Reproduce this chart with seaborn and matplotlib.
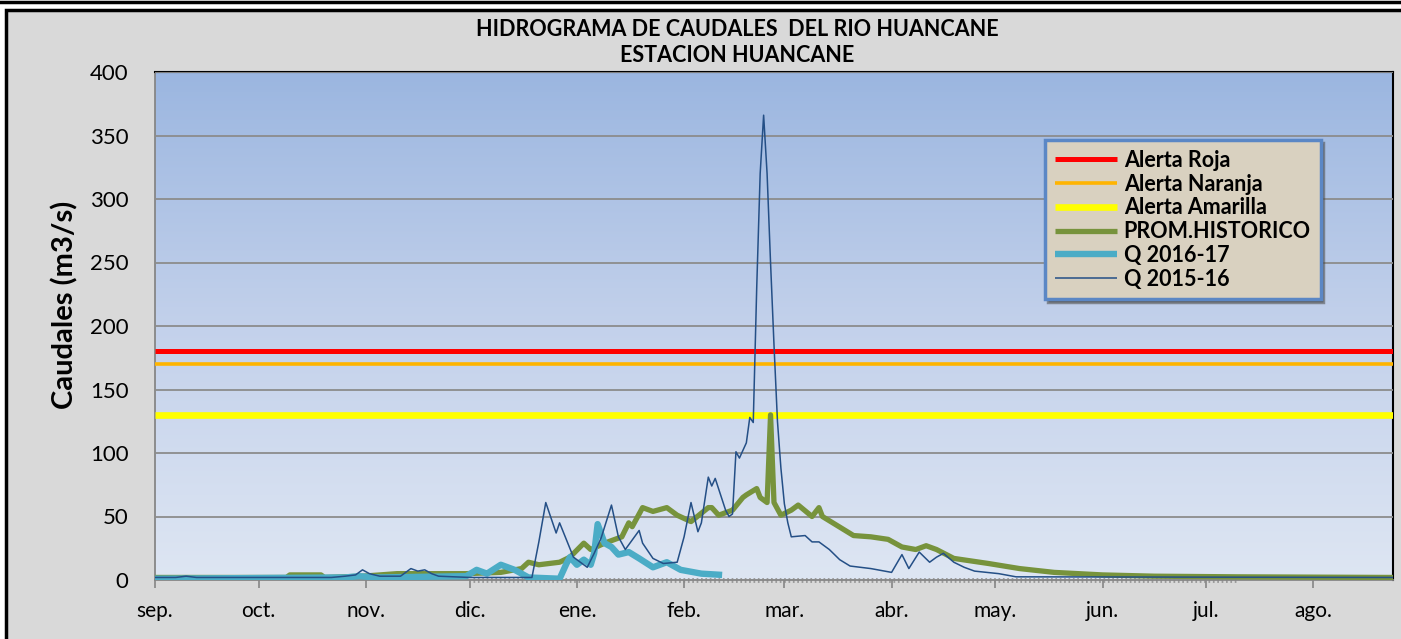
import numpy as np
import pandas as pd
import matplotlib
matplotlib.use("Agg")
import matplotlib.pyplot as plt
import seaborn as sns
from matplotlib.colors import LinearSegmentedColormap
from matplotlib.patches import Rectangle
from matplotlib.lines import Line2D

# ---------------- data ----------------
meses = ["sep.", "oct.", "nov.", "dic.", "ene.", "feb.", "mar.", "abr.", "may.", "jun.", "jul.", "ago."]
dias_mes = [0, 30, 61, 91, 122, 153, 182, 213, 243, 274, 304, 335]   # days since 1 Sep
dia_fin = 358

alerta_roja = 180
alerta_naranja = 170
alerta_amarilla = 130

q1516_dia = [0, 6, 9, 12, 51, 55, 58, 60, 62, 65, 71, 74, 76, 78, 80, 82, 91, 109, 111, 113, 116, 117,
             121, 125, 127, 129, 132, 134, 136, 140, 141, 144, 147, 151, 153, 155, 157, 158, 160, 161,
             162, 165, 166, 167, 168, 169, 171, 172, 173, 174, 175, 176, 177, 178, 179, 180, 181, 182,
             183, 184, 188, 190, 192, 195, 198, 201, 207, 213, 216, 218, 221, 224, 226, 228, 231, 234,
             237, 244, 249, 358]
q1516_val = [2, 2, 3, 2, 2, 3, 4, 8, 5, 3, 3, 9, 7, 8, 5, 3, 2, 2, 30, 61, 37, 45,
             18, 10, 21, 33, 59, 34, 24, 39, 29, 17, 13, 14, 34, 61, 38, 45, 81, 74,
             80, 55, 50, 52, 101, 96, 108, 128, 124, 230, 320, 366, 320, 250, 185, 125, 88, 60,
             45, 34, 35, 30, 30, 24, 16, 11, 9, 6, 20, 9, 22, 14, 18, 21, 14, 10,
             7, 5, 2.5, 2]

q1617_dia = [0, 55, 59, 64, 90, 93, 96, 100, 104, 108, 117, 119, 120, 122, 124, 126, 127, 128, 130,
             132, 134, 137, 140, 144, 148, 152, 158, 164]
q1617_val = [1, 2, 3, 2, 3, 8, 5, 12, 8, 2, 1, 13, 18, 12, 16, 12, 21, 44, 29,
             26, 20, 22, 17, 10, 14, 8, 5, 4]

prom_dia = [0, 38, 39, 48, 49, 60, 70, 90, 100, 106, 108, 111, 117, 120, 124, 126, 130, 135, 137, 138,
            141, 144, 148, 151, 155, 160, 161, 163, 167, 170, 171, 174, 175, 177, 178, 179, 181, 184,
            186, 190, 192, 193, 196, 202, 207, 212, 216, 220, 223, 226, 231, 241, 250, 260, 274, 289,
            313, 358]
prom_val = [2, 2, 4, 4, 2, 3, 5, 5, 6, 9, 14, 12, 14, 18, 29, 24, 29, 34, 45, 42,
            57, 54, 57, 51, 46, 57, 57, 51, 55, 65, 67, 72, 65, 61, 130, 61, 51, 55,
            59, 50, 57, 50, 45, 35, 34, 32, 26, 24, 27, 24, 17, 13, 9, 6, 4, 3,
            2.5, 2]

sin_dato_dia = [92, 313]
sin_dato_val = [0, 0]

# ---------------- figure ----------------
W, H = 1401, 639
fig = plt.figure(figsize=(W / 100, H / 100), dpi=100, facecolor="white")

fig.add_artist(Rectangle((6 / W, -0.1), 1.2, 1.1 - 10 / H, transform=fig.transFigure,
                         facecolor="#D9D9D9", edgecolor="black", lw=2.5, zorder=0))
fig.add_artist(Line2D([0, 1], [1 - 2 / H, 1 - 2 / H], transform=fig.transFigure,
                      color="black", lw=2.5))

ax = fig.add_axes([155 / W, 59 / H, 1238 / W, 508 / H])
ax.set_facecolor("none")

# gradient background of plot area
cmap = LinearSegmentedColormap.from_list("bg", ["#DEE6F3", "#C3D1EB", "#9BB6E0"])
grad = np.linspace(0, 1, 256).reshape(-1, 1)
ax.imshow(grad, extent=[0, dia_fin, 0, 400], origin="lower", aspect="auto", cmap=cmap, zorder=0)

ax.set_xlim(0, dia_fin)
ax.set_ylim(0, 400)
ax.set_yticks(range(0, 401, 50))
ax.yaxis.grid(True, color="#8C8C8C", lw=1.3, zorder=1)
ax.xaxis.grid(False)
ax.set_axisbelow(False)

# alert lines
h_roja = ax.axhline(alerta_roja, color="#FF0000", lw=3.6, zorder=3, label="Alerta Roja")
h_nar = ax.axhline(alerta_naranja, color="#FFB400", lw=2.6, zorder=3, label="Alerta Naranja")
h_ama = ax.axhline(alerta_amarilla, color="#FFFF00", lw=4.8, zorder=3, label="Alerta Amarilla")

# hatch of missing data at zero
ax.plot(sin_dato_dia, sin_dato_val, color="#9A9A9A", lw=3.5, linestyle=(0, (0.35, 0.55)),
        clip_on=False, zorder=2)

df_prom = pd.DataFrame({"dia": prom_dia, "q": prom_val})
df_1617 = pd.DataFrame({"dia": q1617_dia, "q": q1617_val})
df_1516 = pd.DataFrame({"dia": q1516_dia, "q": q1516_val})

sns.lineplot(data=df_prom, x="dia", y="q", ax=ax, color="#77933C", lw=3.8, estimator=None,
             sort=False, zorder=4, label="PROM.HISTORICO")
sns.lineplot(data=df_1617, x="dia", y="q", ax=ax, color="#4BACC6", lw=4.6, estimator=None,
             sort=False, zorder=5, label="Q 2016-17")
sns.lineplot(data=df_1516, x="dia", y="q", ax=ax, color="#244F86", lw=1.1, estimator=None,
             sort=False, zorder=6, label="Q 2015-16")

for ln in ax.lines:
    ln.set_solid_capstyle("butt")

# axes styling
ax.set_xlabel("")
ax.set_ylabel("")
ax.set_xticks(dias_mes)
ax.set_xticklabels(meses)
font = "Lato"
ax.tick_params(axis="x", length=6, width=1.2, color="#868686", pad=9, labelsize=15)
ax.tick_params(axis="y", length=0, pad=19, labelsize=16)
for lab in ax.get_xticklabels() + ax.get_yticklabels():
    lab.set_fontfamily(font)
    lab.set_color("black")

for s in ["top", "right"]:
    ax.spines[s].set_color("black")
    ax.spines[s].set_linewidth(1.5)
for s in ["left", "bottom"]:
    ax.spines[s].set_color("#868686")
    ax.spines[s].set_linewidth(1.3)

fig.text(65 / W, 1 - 305 / H, "Caudales (m3/s)", rotation=90, ha="center", va="center",
         fontsize=21, fontweight="bold", fontfamily=font)
fig.text(737 / W, 1 - 30 / H, "HIDROGRAMA DE CAUDALES  DEL RIO HUANCANE", ha="center",
         va="center", fontsize=15.5, fontweight="bold", fontfamily=font)
fig.text(737 / W, 1 - 56 / H, "ESTACION HUANCANE", ha="center", va="center",
         fontsize=15.5, fontweight="bold", fontfamily=font)

handles, labels = ax.get_legend_handles_labels()
leg = ax.legend(handles, labels, loc="upper left", bbox_to_anchor=(0.719, 0.866),
                borderaxespad=0, frameon=True, fancybox=False, shadow=True, handlelength=2.9,
                handletextpad=0.3, labelspacing=0.13, borderpad=0.45,
                prop={"family": font, "weight": "bold", "size": 15.5})
fr = leg.get_frame()
fr.set_facecolor("#D9D1C0")
fr.set_edgecolor("#5B87C5")
fr.set_linewidth(2.5)
fr.set_alpha(1)
leg.set_zorder(10)

fig.savefig("out.png", dpi=100, facecolor="white")
